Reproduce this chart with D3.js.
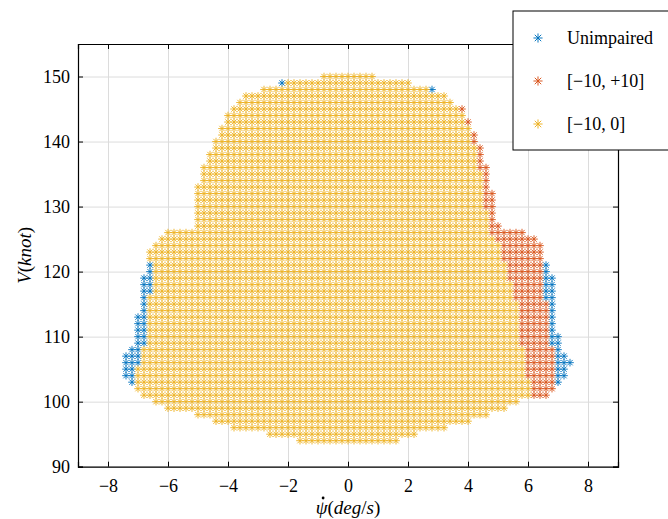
<!DOCTYPE html>
<html>
<head>
<meta charset="utf-8">
<script src="https://cdn.jsdelivr.net/npm/d3@7"></script>
<style>
  body { margin: 0; background: #fff; }
  svg text { font-family: "Liberation Serif", "DejaVu Serif", serif; }
</style>
</head>
<body>
<svg id="chart" width="668" height="519"></svg>
<script>
// speed levels (knots), one row of grid points per level
const speeds = [150, 149, 148, 147, 146, 145, 144, 143, 142, 141, 140, 139, 138, 137, 136,
  135, 134, 133, 132, 131, 130, 129, 128, 127, 126, 125, 124, 123, 122, 121, 120, 119,
  118, 117, 116, 115, 114, 113, 112, 111, 110, 109, 108, 107, 106, 105, 104, 103, 102,
  101, 100, 99, 98, 97, 96, 95, 94];

// [-10, 0] envelope (yaw rate deg/s)
const yellowMin = [-0.8, -2.0, -2.8, -3.4, -3.6, -3.8, -4.0, -4.0, -4.2, -4.2, -4.4, -4.4, -4.6, -4.6, -4.8,
  -4.8, -4.8, -5.0, -5.0, -5.0, -5.0, -5.0, -5.0, -5.0, -6.0, -6.2, -6.4, -6.6, -6.6, -6.4, -6.4, -6.4,
  -6.4, -6.4, -6.6, -6.6, -6.6, -6.6, -6.6, -6.6, -6.6, -6.6, -6.8, -6.8, -6.8, -7.0, -7.0, -7.0, -7.0,
  -6.8, -6.4, -6.0, -5.0, -4.4, -3.8, -2.6, -1.6];
const yellowMax = [0.8, 2.0, 2.6, 3.2, 3.4, 3.6, 3.8, 3.8, 4.0, 4.0, 4.0, 4.2, 4.2, 4.2, 4.2,
  4.4, 4.4, 4.4, 4.4, 4.4, 4.4, 4.6, 4.6, 4.6, 4.6, 4.8, 5.0, 5.0, 5.0, 5.2, 5.2, 5.2,
  5.4, 5.4, 5.4, 5.6, 5.6, 5.6, 5.6, 5.6, 5.6, 5.6, 5.8, 5.8, 5.8, 5.8, 5.8, 6.0, 6.0,
  6.0, 5.6, 5.2, 4.6, 4.0, 3.2, 2.2, 1.6];

// [-10, +10] envelope: same left edge as [-10, 0], right edge below
const redMax = [0.8, 2.0, 2.6, 3.2, 3.4, 3.8, 3.8, 4.0, 4.0, 4.2, 4.2, 4.4, 4.4, 4.4, 4.6,
  4.6, 4.6, 4.6, 4.8, 4.8, 4.8, 4.8, 4.8, 5.0, 5.8, 6.2, 6.4, 6.4, 6.4, 6.4, 6.4, 6.4,
  6.4, 6.4, 6.4, 6.6, 6.6, 6.6, 6.6, 6.6, 6.6, 6.6, 6.8, 6.8, 6.8, 6.8, 6.8, 6.8, 6.8,
  6.6, 5.6, 5.2, 4.6, 4.0, 3.2, 2.2, 1.6];

// Unimpaired envelope
const blueMin = [-0.8, -2.2, -2.8, -3.4, -3.6, -3.8, -4.0, -4.0, -4.2, -4.2, -4.4, -4.4, -4.6, -4.6, -4.8,
  -4.8, -4.8, -5.0, -5.0, -5.0, -5.0, -5.0, -5.0, -5.0, -6.0, -6.2, -6.4, -6.6, -6.6, -6.6, -6.6, -6.8,
  -6.8, -6.8, -6.8, -6.8, -6.8, -7.0, -7.0, -7.0, -7.0, -7.0, -7.2, -7.4, -7.4, -7.4, -7.4, -7.2, -7.0,
  -6.8, -6.4, -6.0, -5.0, -4.4, -3.8, -2.6, -1.6];
const blueMax = [0.8, 2.0, 2.8, 3.2, 3.4, 3.8, 3.8, 4.0, 4.0, 4.2, 4.2, 4.4, 4.4, 4.4, 4.6,
  4.6, 4.6, 4.6, 4.8, 4.8, 4.8, 4.8, 4.8, 5.0, 5.8, 6.2, 6.4, 6.4, 6.4, 6.6, 6.6, 6.8,
  6.8, 6.8, 6.8, 6.8, 6.8, 6.8, 6.8, 6.8, 7.0, 7.0, 7.0, 7.2, 7.4, 7.2, 7.2, 7.0, 6.8,
  6.6, 5.6, 5.2, 4.6, 4.0, 3.2, 2.2, 1.6];

const xTicks = [-8, -6, -4, -2, 0, 2, 4, 6, 8];
const yTicks = [90, 100, 110, 120, 130, 140, 150];
const legendLabels = ["Unimpaired", "[\u221210, +10]", "[\u221210, 0]"];
const colors = ["#0072BD", "#D95319", "#EDB120"];

const svg = d3.select("#chart");
const plotLeft = 78, plotRight = 618, plotTop = 44, plotBottom = 466.7;

const x = d3.scaleLinear().domain([-9, 9]).range([plotLeft, plotRight]);
const y = d3.scaleLinear().domain([90, 155]).range([plotBottom, plotTop]);

// expand each envelope row into points on the 0.2 deg/s grid,
// skipping the ones an upper layer would cover anyway
function gridPoints(mins, maxs, coverMin, coverMax) {
  const pts = [];
  speeds.forEach((v, i) => {
    const a = Math.round(mins[i] * 5), b = Math.round(maxs[i] * 5);
    for (let k = a; k <= b; k++) {
      if (coverMin && k >= Math.round(coverMin[i] * 5) && k <= Math.round(coverMax[i] * 5)) continue;
      pts.push([k / 5, v]);
    }
  });
  return pts;
}

const layers = [
  gridPoints(blueMin, blueMax, yellowMin, redMax),
  gridPoints(yellowMin, redMax, yellowMin, yellowMax),
  gridPoints(yellowMin, yellowMax)
];

// grid
svg.append("g")
  .attr("class", "grid")
  .attr("transform", `translate(0,${plotBottom})`)
  .call(d3.axisBottom(x).tickValues(xTicks).tickSize(-(plotBottom - plotTop)).tickFormat(""))
  .call(g => g.select(".domain").remove());
svg.append("g")
  .attr("class", "grid")
  .attr("transform", `translate(${plotLeft},0)`)
  .call(d3.axisLeft(y).tickValues(yTicks).tickSize(-(plotRight - plotLeft)).tickFormat(""))
  .call(g => g.select(".domain").remove());
svg.selectAll(".grid line").attr("stroke", "#dcdcdc");

// asterisk marker
const r = 3.8, k = r * Math.SQRT1_2;
const star = `M${-r},0L${r},0M0,${-r}L0,${r}M${-k},${-k}L${k},${k}M${-k},${k}L${k},${-k}`;

layers.forEach((pts, i) => {
  svg.append("g")
    .selectAll("path")
    .data(pts)
    .enter()
    .append("path")
    .attr("d", star)
    .attr("transform", d => `translate(${x(d[0])},${y(d[1])})`)
    .attr("fill", "none")
    .attr("stroke", colors[i])
    .attr("stroke-width", 0.9);
});

// axes, ticks inward on all four sides
const axes = svg.append("g").attr("class", "axes");
axes.append("g")
  .attr("transform", `translate(0,${plotBottom})`)
  .call(d3.axisBottom(x).tickValues(xTicks).tickSize(-5).tickPadding(13));
axes.append("g")
  .attr("transform", `translate(0,${plotTop})`)
  .call(d3.axisTop(x).tickValues(xTicks).tickSize(-5).tickFormat(""));
axes.append("g")
  .attr("transform", `translate(${plotLeft},0)`)
  .call(d3.axisLeft(y).tickValues(yTicks).tickSize(-5).tickPadding(8));
axes.append("g")
  .attr("transform", `translate(${plotRight},0)`)
  .call(d3.axisRight(y).tickValues(yTicks).tickSize(-5).tickFormat(""));
axes.selectAll("text").attr("font-size", "18px").attr("font-family", "Liberation Serif").attr("fill", "#000");
axes.selectAll(".domain").attr("stroke", "#000").attr("stroke-width", 1.2);
axes.selectAll(".tick line").attr("stroke", "#000");

// axis labels
const xl = svg.append("text")
  .attr("x", x(0)).attr("y", 514)
  .attr("text-anchor", "middle")
  .attr("font-size", "19px");
xl.append("tspan").attr("font-style", "italic").text("\u03C8");
xl.append("tspan").text("(");
xl.append("tspan").attr("font-style", "italic").text("deg");
xl.append("tspan").text("/");
xl.append("tspan").attr("font-style", "italic").text("s");
xl.append("tspan").text(")");
// dot over psi
{
  const node = xl.node();
  const p0 = node.getStartPositionOfChar(0), p1 = node.getEndPositionOfChar(0);
  svg.append("circle")
    .attr("cx", (p0.x + p1.x) / 2 + 1.5)
    .attr("cy", 514 - 16)
    .attr("r", 1.4)
    .attr("fill", "#000");
}

const yl = svg.append("text")
  .attr("transform", `translate(31,${(plotTop + plotBottom) / 2}) rotate(-90)`)
  .attr("text-anchor", "middle")
  .attr("font-size", "19px");
yl.append("tspan").attr("font-style", "italic").text("V");
yl.append("tspan").text("(");
yl.append("tspan").attr("font-style", "italic").text("knot");
yl.append("tspan").text(")");

// legend
const legend = svg.append("g");
legend.append("rect")
  .attr("x", 513).attr("y", 11).attr("width", 200).attr("height", 139)
  .attr("fill", "#fff").attr("stroke", "#000").attr("stroke-width", 1);
legendLabels.forEach((lab, i) => {
  const ly = 38 + i * 43;
  legend.append("path")
    .attr("d", star)
    .attr("transform", `translate(538,${ly}) scale(1.2)`)
    .attr("fill", "none")
    .attr("stroke", colors[i])
    .attr("stroke-width", 0.8);
  legend.append("text")
    .attr("x", 567).attr("y", ly + 6)
    .attr("font-size", "18px")
    .text(lab);
});
</script>
</body>
</html>
